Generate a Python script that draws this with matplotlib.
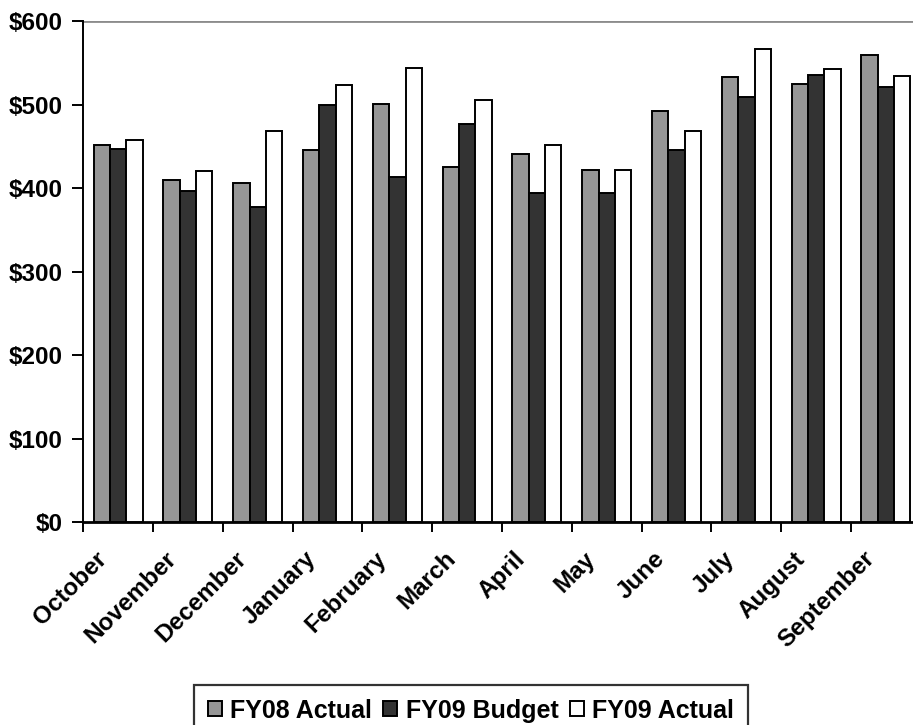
import matplotlib
matplotlib.use('Agg')
import matplotlib.pyplot as plt
import matplotlib.transforms as mtransforms
import numpy as np

# Monthly values ($)
months = ["October", "November", "December", "January", "February", "March",
          "April", "May", "June", "July", "August", "September"]
fy08_actual = [451, 410, 406, 446, 501, 425, 441, 422, 492, 533, 525, 559]
fy09_budget = [447, 396, 377, 499, 413, 477, 394, 394, 446, 509, 535, 521]
fy09_actual = [458, 420, 468, 523, 544, 506, 451, 422, 468, 566, 542, 534]
y_ticks = [0, 100, 200, 300, 400, 500, 600]

plt.rcParams['font.family'] = ['Liberation Sans', 'DejaVu Sans']
plt.rcParams['font.weight'] = 'bold'

fig = plt.figure(figsize=(9.13, 7.25), dpi=100)
ax = fig.add_axes([0.0912, 0.28, 0.9174, 0.691])

x = np.arange(len(months))
w = 0.234
series = [
    (fy08_actual, "FY08 Actual", "#969696"),
    (fy09_budget, "FY09 Budget", "#333333"),
    (fy09_actual, "FY09 Actual", "#ffffff"),
]
for k, (vals, label, color) in enumerate(series):
    ax.bar(x + (k - 1) * w, vals, w, color=color, edgecolor='black',
           linewidth=1.4, label=label, zorder=3)

ax.set_xlim(-0.5, 11.5)
ax.set_ylim(0, 600)

# y axis
ax.set_yticks(y_ticks)
ax.set_yticklabels([f"${v}" for v in y_ticks], fontsize=17.5, fontweight='bold')
ax.tick_params(axis='y', direction='out', length=8, width=1.4, pad=7)

# x axis: ticks between categories, labels at centres
ax.set_xticks(x)
ax.set_xticks(np.arange(-0.5, 12, 1), minor=True)
ax.tick_params(axis='x', which='major', length=0, pad=24)
ax.tick_params(axis='x', which='minor', direction='out', length=7, width=1.4)
ax.set_xticklabels(months, fontsize=17.5, fontweight='bold', rotation=45,
                   ha='right', va='center', rotation_mode='anchor')
shift = mtransforms.ScaledTranslation(-15 / 100, 0, fig.dpi_scale_trans)
for lbl in ax.get_xticklabels():
    lbl.set_transform(lbl.get_transform() + shift)

# top gridline only
ax.axhline(600, color='#8c8c8c', linewidth=2, zorder=1)

ax.spines['top'].set_visible(False)
ax.spines['right'].set_visible(False)
ax.spines['left'].set_linewidth(1.4)
ax.spines['bottom'].set_linewidth(2)

leg = fig.legend(loc='upper center', bbox_to_anchor=(471 / 913, 1 - 685 / 725),
                 ncol=3, fontsize=18, frameon=True, fancybox=False,
                 handlelength=0.55, handleheight=0.55, handletextpad=0.35,
                 columnspacing=0.45, borderpad=0.55, borderaxespad=0)
leg.get_frame().set_edgecolor('black')
leg.get_frame().set_linewidth(1.6)
for t in leg.get_texts():
    t.set_fontweight('bold')

fig.savefig('out.png', dpi=100)
